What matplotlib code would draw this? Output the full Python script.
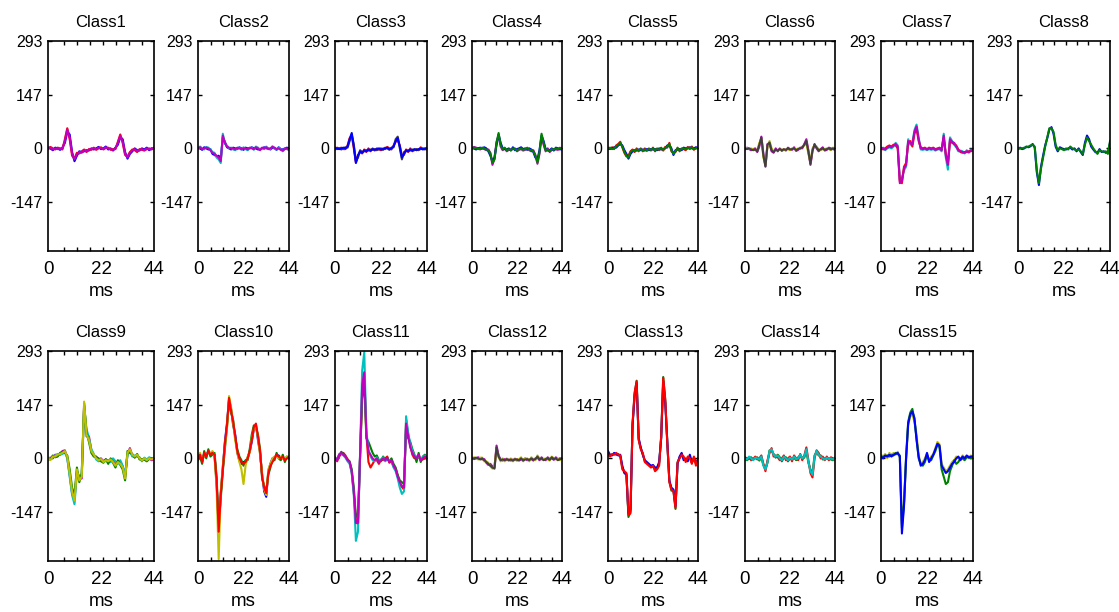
import matplotlib

matplotlib.use("Agg")
import matplotlib.pyplot as plt  # noqa: E402
import numpy as np  # noqa: E402

plt.rcParams["font.family"] = ["Liberation Sans", "DejaVu Sans"]
plt.rcParams["axes.unicode_minus"] = False

# sample times of each spike waveform (ms)
t_ms = np.arange(45)

# overlaid spike waveforms per class (amplitude units), drawn in list order
class1 = [
    [3, 0, -5, 2, 0, -4, 2, 15, 45, 38, -10, -35, -20, -8, -10, -8, -5, -6, 0, -3, 0, 4, -2, 0, 5,
     -3, 0, -6, 2, 10, 30, 25, -10, -28, -15, -8, 0, -5, -6, 0, -3, 2, -5, 0, -2],
    [-2, 4, 0, -3, 2, 0, -3, 25, 55, 25, -20, -28, -12, -14, -8, -3, -10, -2, -4, 2, -4, 0, 3, -3, 1,
     2, -4, -2, -2, 18, 38, 15, -18, -22, -10, -3, -5, -10, -2, -4, -6, -2, 0, -3, 2],
    [0, 2, -3, 0, -2, -1, 0, 20, 52, 30, -15, -30, -15, -10, -12, -5, -8, -3, -2, 0, -2, 2, 0, -1, 3,
     0, -2, -4, 0, 15, 35, 18, -15, -25, -12, -5, -2, -8, -4, -2, -5, 0, -3, -1, 0],
]
class1_colors = ["b", "r", "m"]

class2 = [
    [2, 0, -4, 3, 0, -3, -2, -15, -18, -22, -20, -30, 30, 18, 3, 0, -3, 2, 0, -2, 3, 0, -4, 2, 0,
     0, 3, 0, 0, -3, -2, 0, 3, 0, 0, -3, 2, 0, -4, 3, -2, -3, 0, 2, 0],
    [-2, 5, 0, -3, 4, 2, -3, -10, -12, -25, -30, -40, 40, 12, 8, 0, 2, -3, -5, 0, 2, -4, 3, -2, -5,
     0, 2, -4, 5, 2, -3, 0, -2, 5, 0, -2, 6, 0, -3, 2, -2, -8, 0, -2, -5],
    [0, 3, -2, 0, 2, 0, -5, -12, -15, -20, -25, -35, 35, 15, 5, 2, 0, 0, -3, 2, 0, -2, 0, 0, -3,
     2, 0, -2, 3, 0, -5, 2, 0, 3, -2, 0, 4, 2, -2, 0, -4, -6, -2, 0, -3],
]
class2_colors = ["b", "c", "m"]

class3 = [
    [-3, 2, 0, 2, -2, -2, 8, 28, 35, 0, -38, -18, -10, -14, -3, -10, 0, -8, 0, -6, 0, -3, -5, 0, -2,
     4, 0, -3, 8, 18, 22, 8, -20, -18, -3, -10, 0, -8, -4, -3, -5, 3, -2, 0, -3],
    [2, -2, 0, -3, 0, 3, 2, 20, 38, 10, -35, -25, -5, -10, -8, -5, -6, -3, -4, -2, -5, -2, 0, -4, 2,
     0, -4, 2, 3, 25, 32, 0, -30, -10, -8, -5, -6, -3, -5, -2, -4, -2, 0, -3, 2],
    [0, 0, -2, 0, 2, 0, 5, 25, 42, 5, -40, -20, -8, -12, -5, -8, -3, -6, -2, -4, -2, 0, -3, -2, 0,
     2, -2, 0, 5, 20, 28, 5, -25, -15, -5, -8, -3, -6, -2, -5, -2, 0, -3, -1, 0],
]
class3_colors = ["r", "k", "b"]

class4 = [
    [-2, 4, 2, 0, -3, 0, -2, -5, -3, -12, -45, -28, 18, 35, 5, -5, 0, -8, -4, -3, -2, 0, -8, -4, -2,
     -6, -4, 2, -5, -8, -5, -18, -42, -15, 30, 10, -8, 0, -10, -4, -2, -3, -4, 2, -4],
    [2, 0, -3, 0, 2, 0, 3, 0, -8, -20, -35, -25, 10, 38, 15, 0, -2, -3, 0, -6, 3, -5, -2, 0, 3,
     -2, 0, -4, 0, -3, -10, -25, -30, -5, 35, 20, -2, -6, -5, 0, -6, 2, 0, -3, 0],
    [0, 2, 0, -2, 0, 2, 0, -3, -5, -15, -40, -30, 15, 42, 10, -3, 2, -5, -2, -5, 0, -3, -5, -2, 0,
     -4, -2, 0, -3, -5, -8, -20, -38, -10, 40, 15, -5, -3, -8, -2, -4, 0, -2, 0, -2],
]
class4_colors = ["m", "b", "g"]

class5 = [
    [2, -2, 3, -2, 8, 12, 18, 3, -12, -22, -20, -8, -3, -10, 0, -8, 0, -8, 0, -7, 0, -6, 2, -8, 0,
     -5, 2, -6, 4, 2, 15, -8, -12, -10, 2, -8, 0, -2, -5, 4, -2, 5, -4, 2, 0],
    [-2, 0, 0, 3, 2, 8, 12, 8, -5, -15, -28, -15, -8, -5, -6, -3, -5, -3, -6, -2, -5, -2, -3, -2, -5,
     0, -3, -2, 0, 8, 8, 0, -18, -5, -3, -2, -5, 2, 0, 0, 3, 0, 0, 3, 0],
    [0, 2, -2, 0, 5, 10, 15, 5, -10, -20, -25, -10, -5, -8, -3, -5, -2, -6, -3, -5, -2, -4, 0, -5, -2,
     -3, 0, -4, 2, 5, 12, -5, -15, -8, 0, -5, -2, 0, -3, 2, 0, 3, -2, 0, 2],
]
class5_colors = ["r", "b", "g"]

class6 = [
    [-3, 2, -2, -5, -2, 0, -10, 5, 32, -15, -48, 12, 12, -8, -12, 0, -8, 0, -7, -2, -6, 2, -2, -4, 3,
     -7, -4, 2, 0, 12, 25, -5, -45, -8, 12, 0, -8, -2, 3, -6, -4, 2, 0, -2, -4],
    [2, 0, -2, 0, -3, -5, -5, 15, 25, -25, -45, 5, 20, 0, -8, -5, -4, -4, -3, -5, -2, -2, -5, 0, -2,
     -3, 0, -2, 5, 8, 15, -15, -38, 0, 8, 5, -3, -5, -2, -2, 0, -2, -5, 2, 0],
    [0, -2, 0, -3, -5, -3, -8, 10, 30, -20, -50, 10, 16, -5, -10, -3, -6, -2, -5, -3, -4, 0, -3, -2, 0,
     -5, -2, 0, 3, 10, 20, -10, -42, -5, 10, 2, -5, -3, 0, -4, -2, 0, -3, 0, -2],
]
class6_colors = ["m", "y", "k"]

class7 = [
    [-2, 2, -5, 0, 3, 0, 5, 15, 8, -85, -80, -60, -50, 25, 10, 15, 50, 65, 30, -3, -4, -2, -5, -2, -4,
     -2, -6, -3, -2, -8, 40, -25, -58, 30, 20, 10, 3, -8, -6, -8, -14, -5, -12, -3, -6],
    [2, -3, 0, 5, 8, 5, 10, 8, 0, -90, -95, -50, -40, 15, 20, 5, 40, 55, 20, 3, 0, 2, -2, 2, 0,
     2, -2, 0, 2, -3, 30, -15, -40, 20, 15, 12, 8, -3, -10, -12, -10, -10, -8, -8, -3],
    [0, 0, -3, 2, 5, 3, 8, 12, 5, -95, -90, -55, -45, 20, 15, 10, 45, 60, 25, 0, -2, 0, -3, 0, -2,
     0, -4, -2, 0, -5, 35, -20, -45, 25, 18, 15, 5, -5, -8, -10, -12, -8, -10, -5, -5],
]
class7_colors = ["c", "r", "m"]

class8 = [
    [-2, 2, -2, 0, 5, 3, 6, 12, 2, -65, -100, -50, -20, 8, 28, 52, 58, 40, 5, -8, 3, 0, -2, -3, 0,
     2, -3, 0, -8, 0, -10, -18, 15, 35, 25, 5, -3, -10, -12, -2, -10, -8, -12, -10, 15],
    [0, 0, 0, 2, 3, 5, 8, 10, 5, -60, -95, -55, -25, 5, 30, 55, 55, 45, 10, -5, 0, -2, -5, 0, -3,
     5, 0, -3, -5, -3, -8, -15, 10, 30, 20, 10, 0, -8, -15, -5, -8, -10, -8, -15, 20],
]
class8_colors = ["b", "g"]

class9 = [
    [0, 2, 0, 10, 8, 10, 20, 22, 2, -45, -95, -110, -35, -50, -55, 150, 60, 60, 22, 8, 5, -3, 0, -8, -3,
     -6, -5, -5, -15, -12, -10, -22, -50, 12, 28, 8, 3, 8, 2, -5, -2, -6, 0, -5, -2],
    [2, 0, 3, 8, 12, 10, 12, 18, 0, -50, -100, -125, -40, -55, -45, 140, 80, 55, 25, 12, -3, -8, -5, -6, -8,
     -5, -10, 0, -8, -15, -5, -20, -45, 10, 20, 5, 8, 5, 3, -8, 2, -3, 3, 0, 2],
    [-3, -2, 8, 3, 5, 15, 18, 15, 8, -30, -80, -100, -25, -65, -40, 145, 70, 45, 15, 5, 3, 0, -8, -12, -2,
     -15, 0, -12, -25, -5, -18, -30, -60, 20, 15, 12, 2, 12, -3, -2, -3, -8, -2, 0, -2],
    [0, -5, 5, 5, 10, 12, 15, 20, 5, -40, -90, -115, -30, -60, -50, 155, 65, 50, 20, 10, 0, -5, -2, -10, -5,
     -8, -3, -10, -20, -10, -15, -25, -55, 15, 25, 10, 5, 10, 0, -5, 0, -5, 0, -3, 0],
]
class9_colors = ["m", "c", "g", "y"]

class10 = [
    [2, 8, -8, 12, 8, 18, 12, 18, 8, -70, -190, -95, -25, 45, 95, 160, 135, 90, 65, 15, -5, -15, -10, -8, 2,
     18, 45, 80, 92, 50, 15, -45, -90, -105, -35, -15, 0, 3, 8, 8, -3, 2, -3, 3, 2],
    [-5, 5, -15, 20, 0, 25, 5, 10, 15, -50, -180, -110, -35, 25, 85, 155, 125, 105, 55, 25, 5, -5, -20, -5, -5,
     25, 65, 90, 85, 65, 25, -55, -75, -90, -45, -25, -5, -5, 15, 0, -5, 10, -10, 5, 0],
    [5, 15, -5, 10, 10, 15, 15, 20, 5, -80, -275, -90, -20, 35, 80, 170, 140, 95, 50, 15, -10, -30, -70, -20, 5,
     15, 55, 80, 90, 55, 10, -40, -85, -100, -30, -15, 0, 5, 5, 0, 5, 0, 0, 5, 0],
    [0, 10, -10, 15, 5, 20, 10, 15, 10, -60, -200, -100, -30, 40, 90, 165, 130, 100, 60, 20, 0, -10, -15, -10, 0,
     20, 50, 85, 95, 60, 20, -50, -80, -95, -40, -20, -10, 0, 10, 5, 0, 5, -5, 0, 5],
]
class10_colors = ["b", "g", "y", "r"]

class11 = [
    [2, -8, 5, 12, 15, 8, -2, -12, -38, -95, -170, -180, 8, 180, 225, 65, -10, -25, -15, -5, -5, -15, -3, -5, 0,
     5, -12, -8, -22, -28, -48, -72, -78, -85, 105, 65, 35, 10, 0, 5, 5, -5, -3, 0, 3],
    [-3, 0, 8, 18, 12, 3, -3, -8, -30, -80, -160, -150, 5, 160, 210, 55, 45, 30, 15, 5, 8, -5, -8, 5, -3,
     2, -8, 0, -15, -25, -45, -60, -65, -70, 85, 55, 45, 25, 10, -10, 15, -10, 5, 10, -3],
    [3, -3, 12, 12, 8, 2, -8, -15, -40, -100, -225, -200, 15, 240, 290, 75, 25, 5, -5, -8, 3, -8, -3, 3, -8,
     -3, -5, -8, -25, -35, -55, -80, -97, -90, 115, 70, 40, 20, 8, 3, 5, -2, 3, 8, 2],
    [0, -5, 10, 15, 10, 5, -5, -10, -35, -90, -176, -176, 10, 200, 235, 66, 18, 10, 0, -5, 0, -10, -5, 0, -5,
     0, -10, -5, -20, -30, -50, -65, -75, -80, 95, 60, 30, 15, 5, 0, 10, -5, 0, 5, 0],
]
class11_colors = ["r", "g", "c", "m"]

class12 = [
    [2, -2, 0, 3, 0, -3, -2, -12, -18, -15, -22, -25, 35, 8, -3, -6, -2, -5, -3, -6, -3, -5, -2, -6, -3,
     -4, 0, -5, -3, -2, -6, 0, 2, -5, 3, -3, -5, 3, -2, 0, -4, 3, -3, 0, -2],
    [-2, 3, 0, -3, 2, 2, -8, -8, -12, -22, -28, -20, 25, 3, -8, 0, -8, 0, -7, 0, -8, 0, -7, -2, 3,
     -8, -1, 0, -8, 3, -2, -5, 8, 0, -3, -2, 0, -3, -6, 5, 0, -3, -2, -5, 2],
    [0, 0, 2, 0, -3, 0, -5, -10, -15, -20, -25, -28, 30, 5, -5, -3, -5, -2, -5, -3, -6, -2, -4, -5, 0,
     -6, -3, -2, -5, 0, -4, -2, 5, -3, 0, -5, -2, 0, -4, 3, -2, 0, -5, -2, 0],
]
class12_colors = ["m", "y", "k"]

class13 = [
    [12, 8, 10, 12, 10, 12, 5, -25, -38, -42, -160, -145, 92, 175, 212, 52, 28, 12, -8, -12, -18, -22, -22, -30, -28,
     -15, 58, 222, 158, 42, -62, -88, -88, -138, -12, 2, 12, 0, -5, -3, 5, -12, 2, -15, -2],
    [20, 10, 8, 15, 12, 8, 10, -20, -40, -45, -150, -140, 90, 170, 205, 55, 30, 10, -5, -10, -15, -20, -18, -25, -25,
     -10, 55, 210, 150, 45, -60, -80, -85, -130, -15, 5, 15, -5, 0, -8, 10, -10, 0, -10, -5],
    [10, 5, 12, 10, 15, 10, 8, -30, -35, -40, -155, -150, 95, 180, 210, 50, 25, 15, -10, -15, -20, -25, -20, -35, -30,
     -20, 60, 220, 160, 40, -65, -85, -90, -135, -10, 0, 10, 5, -10, 5, 0, -15, 5, -20, 0],
]
class13_colors = ["g", "b", "r"]

class14 = [
    [-2, -5, 0, 3, -3, 0, 3, -6, 2, -18, -28, -12, 22, 20, 12, 2, 10, 3, -8, 2, 3, -8, 0, 0, 2,
     -5, 3, 8, 2, 2, 20, -12, -30, -42, 8, 18, 8, 8, -3, 0, 0, 0, -3, -5, 2],
    [3, 0, 2, -5, -2, 5, -3, 0, 8, -15, -35, -5, 15, 28, 5, 8, 3, -5, 0, 8, -5, 0, 5, -8, 8,
     0, -5, 12, -5, 8, 30, -5, -40, -52, 0, 22, 15, 0, 5, -5, 5, -5, 3, 0, -3],
    [0, -3, 5, 0, -5, 2, 0, -3, 5, -20, -30, -10, 20, 25, 10, 5, 8, 0, -5, 5, 0, -5, 2, -3, 5,
     -2, 0, 10, 0, 5, 25, -10, -35, -45, 5, 20, 10, 5, 0, -3, 2, -2, 0, -3, 0],
]
class14_colors = ["g", "r", "c"]

class15 = [
    [10, 5, 12, 0, 15, 8, 15, 10, 18, 2, -180, -120, -5, 90, 115, 120, 100, 65, 10, -15, -10, 0, 12, -5, 5,
     12, 28, 45, 38, -15, -25, -35, -30, -20, -10, -5, 5, 0, -3, 8, 2, 5, 0, 8, 2],
    [2, 5, 5, 8, 5, 10, 8, 15, 12, 8, -190, -125, 5, 100, 125, 135, 105, 55, 0, -15, -20, -10, 10, -5, -5,
     8, 20, 38, 30, -30, -50, -70, -65, -35, -20, -5, -15, -10, 0, 0, -5, 3, 5, 0, 3],
    [5, 0, 8, 5, 10, 5, 10, 12, 15, 5, -205, -130, 0, 95, 120, 128, 110, 50, 5, -20, -15, -5, 15, -10, 0,
     10, 25, 40, 35, -20, -30, -40, -35, -25, -15, -10, 0, 5, -5, 5, 0, 8, 2, 5, 5],
]
class15_colors = ["y", "g", "b"]

classes = [class1, class2, class3, class4, class5, class6, class7, class8,
           class9, class10, class11, class12, class13, class14, class15]
class_colors = [class1_colors, class2_colors, class3_colors, class4_colors, class5_colors,
                class6_colors, class7_colors, class8_colors, class9_colors, class10_colors,
                class11_colors, class12_colors, class13_colors, class14_colors, class15_colors]
class_names = [f"Class{i}" for i in range(1, 16)]

y_ticks = [-147, 0, 147, 293]
x_ticks = [0, 22, 44]

# old-style colour order
palette = {
    "b": "#0000ff", "g": "#008000", "r": "#ff0000", "c": "#00bfbf",
    "m": "#bf00bf", "y": "#bfbf00", "k": "#404040",
}

# panel boxes in pixels: left edges / widths per column, top edge per row
W, H = 1119, 612
col_left = [48, 198, 335, 472, 608, 745, 881, 1018]
col_width = [106, 91, 92, 90, 90, 90, 92, 92]
row_top = [41, 351]
box_h = 210

fig = plt.figure(figsize=(W / 100, H / 100), dpi=100)

for i, (traces, colors, name) in enumerate(zip(classes, class_colors, class_names)):
    row, col = divmod(i, 8)
    left, width, top = col_left[col], col_width[col], row_top[row]
    ax = fig.add_axes([left / W, 1 - (top + box_h) / H, width / W, box_h / H])

    for wave, c in zip(traces, colors):
        ax.plot(t_ms, wave, color=palette[c], lw=1.5)

    ax.set_xlim(0, 44)
    ax.set_ylim(-280, 293)
    ax.set_yticks(y_ticks)
    ax.set_xticks(x_ticks)
    ax.set_xticks(np.arange(1, 8) * 5.45 + 1.0, minor=True)
    ax.tick_params(axis="x", which="major", length=0, labelsize=13.5, pad=7.5)
    ax.tick_params(axis="x", which="minor", direction="in", length=3, width=1,
                   top=True, bottom=True)
    ax.tick_params(axis="y", direction="in", length=3, width=1, right=True,
                   labelsize=11.5, pad=4)
    for sp in ax.spines.values():
        sp.set_linewidth(1.2)
    ax.set_title(name, fontsize=12, pad=10)
    ax.set_xlabel("ms", fontsize=13.5, labelpad=3)

fig.savefig("out.png", dpi=100)
